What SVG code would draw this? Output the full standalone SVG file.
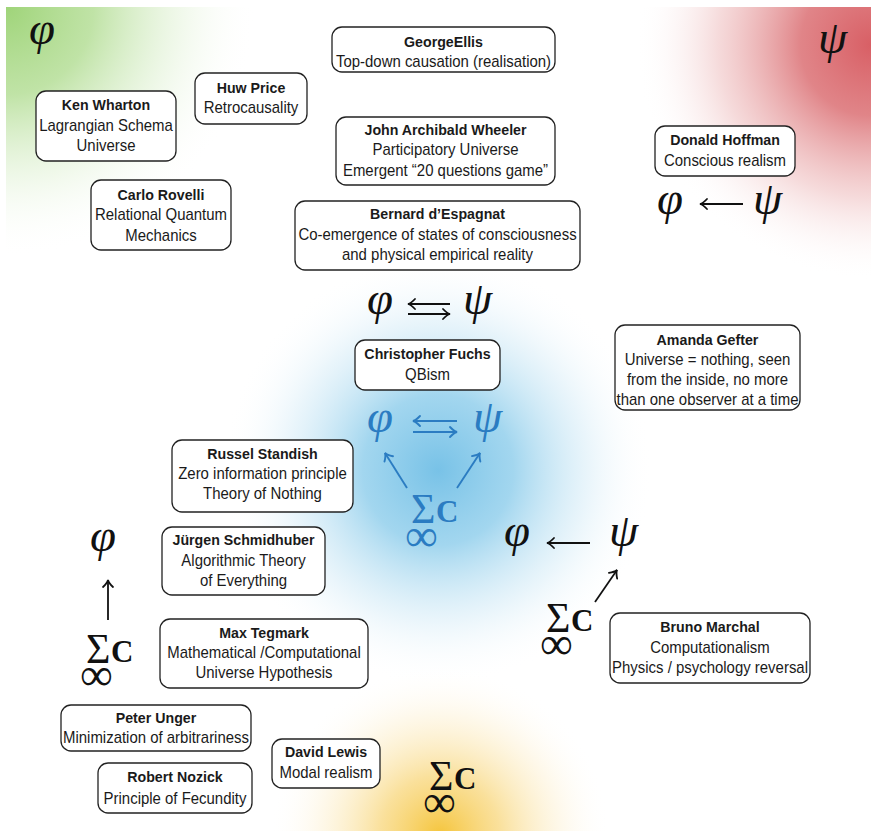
<svg xmlns="http://www.w3.org/2000/svg" width="871" height="831" viewBox="0 0 871 831">
  <defs>
    <radialGradient id="glowGreen" gradientUnits="userSpaceOnUse" cx="6" cy="7" r="250">
      <stop offset="0" stop-color="#9fd479" stop-opacity="1"/>
      <stop offset="0.35" stop-color="#b0dc90" stop-opacity="0.8"/>
      <stop offset="0.7" stop-color="#d6edc6" stop-opacity="0.35"/>
      <stop offset="1" stop-color="#ffffff" stop-opacity="0"/>
    </radialGradient>
    <radialGradient id="glowRed" gradientUnits="userSpaceOnUse" cx="871" cy="45" r="235">
      <stop offset="0" stop-color="#d85f65" stop-opacity="1"/>
      <stop offset="0.3" stop-color="#dd777b" stop-opacity="0.9"/>
      <stop offset="0.65" stop-color="#ecb5b6" stop-opacity="0.5"/>
      <stop offset="1" stop-color="#ffffff" stop-opacity="0"/>
    </radialGradient>
    <radialGradient id="glowBlue" gradientUnits="userSpaceOnUse" cx="438" cy="470" r="215">
      <stop offset="0" stop-color="#78c2e7" stop-opacity="1"/>
      <stop offset="0.35" stop-color="#92cfec" stop-opacity="0.85"/>
      <stop offset="0.7" stop-color="#cfe9f6" stop-opacity="0.45"/>
      <stop offset="1" stop-color="#ffffff" stop-opacity="0"/>
    </radialGradient>
    <radialGradient id="glowYellow" gradientUnits="userSpaceOnUse" cx="440" cy="835" r="170">
      <stop offset="0" stop-color="#f5c53c" stop-opacity="1"/>
      <stop offset="0.35" stop-color="#f8d67a" stop-opacity="0.75"/>
      <stop offset="0.7" stop-color="#fcebc0" stop-opacity="0.35"/>
      <stop offset="1" stop-color="#ffffff" stop-opacity="0"/>
    </radialGradient>
    <marker id="headK" markerUnits="userSpaceOnUse" viewBox="-10 -6 12 12" markerWidth="12" markerHeight="12" refX="0" refY="0" orient="auto" overflow="visible">
      <path d="M-7,-5 C-4,-1.8 -1.6,-0.4 0,0 C-1.6,0.4 -4,1.8 -7,5" fill="none" stroke="#111" stroke-width="1.8" stroke-linecap="round"/>
    </marker>
    <marker id="headB" markerUnits="userSpaceOnUse" viewBox="-10 -6 12 12" markerWidth="12" markerHeight="12" refX="0" refY="0" orient="auto" overflow="visible">
      <path d="M-7,-5 C-4,-1.8 -1.6,-0.4 0,0 C-1.6,0.4 -4,1.8 -7,5" fill="none" stroke="#2b7cc2" stroke-width="1.9" stroke-linecap="round"/>
    </marker>
  </defs>
  <style>
    .box { fill: #ffffff; stroke: #222222; stroke-width: 1.3; }
    .name { font-family: "Liberation Sans", Arial, sans-serif; font-weight: bold; font-size: 15.2px; fill: #1a1a1a; text-anchor: middle; }
    .desc { font-family: "Liberation Sans", Arial, sans-serif; font-size: 16px; fill: #1a1a1a; text-anchor: middle; }
    .greek { font-family: "Liberation Serif", "DejaVu Serif", serif; font-style: italic; font-size: 47px; fill: #111111; }
    .sum { font-family: "Liberation Serif", "DejaVu Serif", serif; fill: #111111; }
    .sg { font-size: 42px; }
    .cb { font-weight: bold; font-size: 31px; }
    .inf { font-size: 46px; }
    .blue .greek, .blue .sum { fill: #2b7cc2; }
    .arr { stroke: #111111; stroke-width: 1.8; fill: none; marker-end: url(#headK); }
    .arrB { stroke: #2b7cc2; stroke-width: 1.9; fill: none; marker-end: url(#headB); }
  </style>

  <!-- background glows -->
  <rect x="0" y="0" width="871" height="831" fill="#ffffff"/>
  <rect x="6" y="7" width="300" height="265" fill="url(#glowGreen)"/>
  <rect x="600" y="7" width="271" height="280" fill="url(#glowRed)"/>
  <rect x="220" y="250" width="440" height="440" fill="url(#glowBlue)"/>
  <rect x="260" y="660" width="360" height="171" fill="url(#glowYellow)"/>

  <!-- corner symbols -->
  <text class="greek" x="29" y="44">φ</text>
  <text class="greek" x="818" y="53">ψ</text>

  <!-- connectors -->
  <g id="connectors">
    <line class="arr" x1="743" y1="204" x2="700" y2="204"/>
    <line class="arr" x1="450" y1="304" x2="408" y2="304"/>
    <line class="arr" x1="408" y1="314" x2="450" y2="314"/>
    <line class="arrB" x1="457" y1="421" x2="413" y2="421"/>
    <line class="arrB" x1="413" y1="432" x2="457" y2="432"/>
    <line class="arrB" x1="407" y1="488" x2="385" y2="453"/>
    <line class="arrB" x1="457" y1="488" x2="480" y2="453"/>
    <line class="arr" x1="108" y1="620" x2="108" y2="580"/>
    <line class="arr" x1="590" y1="543" x2="547" y2="543"/>
    <line class="arr" x1="595" y1="602" x2="617" y2="570"/>
  </g>

  <!-- formula symbols -->
  <g id="hoffman-formula">
    <text class="greek" x="657" y="214">φ</text>
    <text class="greek" x="753" y="214">ψ</text>
  </g>
  <g id="top-formula">
    <text class="greek" x="367" y="314">φ</text>
    <text class="greek" x="463" y="314">ψ</text>
  </g>
  <g id="qbism-formula" class="blue">
    <text class="greek" x="367" y="432">φ</text>
    <text class="greek" x="473" y="432">ψ</text>
    <text class="sum"><tspan class="sg" x="411" y="523">Σ</tspan><tspan class="cb" x="436" y="522">C</tspan><tspan class="inf" x="405" y="551">∞</tspan></text>
  </g>
  <g id="left-formula">
    <text class="greek" x="90" y="551">φ</text>
    <text class="sum"><tspan class="sg" x="86" y="663">Σ</tspan><tspan class="cb" x="111" y="662">C</tspan><tspan class="inf" x="80" y="690">∞</tspan></text>
  </g>
  <g id="right-formula">
    <text class="greek" x="504" y="546">φ</text>
    <text class="greek" x="609" y="546">ψ</text>
    <text class="sum"><tspan class="sg" x="546" y="632">Σ</tspan><tspan class="cb" x="571" y="631">C</tspan><tspan class="inf" x="540" y="659">∞</tspan></text>
  </g>
  <g id="bottom-formula">
    <text class="sum"><tspan class="sg" x="429" y="790">Σ</tspan><tspan class="cb" x="454" y="789">C</tspan><tspan class="inf" x="423" y="817">∞</tspan></text>
  </g>

  <!-- nodes: box, then label lines in a slightly condensed text frame -->
  <g id="george-ellis">
    <rect class="box" x="332" y="27" width="223" height="45" rx="10"/>
    <g transform="translate(443.5 0) scale(0.935 1)">
      <text class="name" x="0" y="47">GeorgeEllis</text>
      <text class="desc" x="0" y="67">Top-down causation (realisation)</text>
    </g>
  </g>
  <g id="huw-price">
    <rect class="box" x="195" y="73" width="112" height="51" rx="10"/>
    <g transform="translate(251 0) scale(0.935 1)">
      <text class="name" x="0" y="93">Huw Price</text>
      <text class="desc" x="0" y="113">Retrocausality</text>
    </g>
  </g>
  <g id="ken-wharton">
    <rect class="box" x="36" y="91" width="140" height="70" rx="10"/>
    <g transform="translate(106 0) scale(0.935 1)">
      <text class="name" x="0" y="110">Ken Wharton</text>
      <text class="desc" x="0" y="131">Lagrangian Schema</text>
      <text class="desc" x="0" y="151">Universe</text>
    </g>
  </g>
  <g id="carlo-rovelli">
    <rect class="box" x="91" y="180" width="140" height="70" rx="10"/>
    <g transform="translate(161 0) scale(0.935 1)">
      <text class="name" x="0" y="200">Carlo Rovelli</text>
      <text class="desc" x="0" y="220">Relational Quantum</text>
      <text class="desc" x="0" y="241">Mechanics</text>
    </g>
  </g>
  <g id="wheeler">
    <rect class="box" x="336" y="117" width="219" height="68" rx="10"/>
    <g transform="translate(445.5 0) scale(0.935 1)">
      <text class="name" x="0" y="135">John Archibald Wheeler</text>
      <text class="desc" x="0" y="155">Participatory Universe</text>
      <text class="desc" x="0" y="176">Emergent “20 questions game”</text>
    </g>
  </g>
  <g id="espagnat">
    <rect class="box" x="295" y="201" width="285" height="69" rx="10"/>
    <g transform="translate(437.5 0) scale(0.935 1)">
      <text class="name" x="0" y="219">Bernard d’Espagnat</text>
      <text class="desc" x="0" y="240">Co-emergence of states of consciousness</text>
      <text class="desc" x="0" y="260">and physical empirical reality</text>
    </g>
  </g>
  <g id="hoffman">
    <rect class="box" x="655" y="126" width="140" height="50" rx="10"/>
    <g transform="translate(725 0) scale(0.935 1)">
      <text class="name" x="0" y="145">Donald Hoffman</text>
      <text class="desc" x="0" y="166">Conscious realism</text>
    </g>
  </g>
  <g id="fuchs">
    <rect class="box" x="355" y="340" width="145" height="50" rx="10"/>
    <g transform="translate(427.5 0) scale(0.935 1)">
      <text class="name" x="0" y="359">Christopher Fuchs</text>
      <text class="desc" x="0" y="380">QBism</text>
    </g>
  </g>
  <g id="gefter">
    <rect class="box" x="615" y="325" width="185" height="85" rx="10"/>
    <g transform="translate(707.5 0) scale(0.935 1)">
      <text class="name" x="0" y="345">Amanda Gefter</text>
      <text class="desc" x="0" y="365">Universe = nothing, seen</text>
      <text class="desc" x="0" y="385">from the inside, no more</text>
      <text class="desc" x="0" y="405">than one observer at a time</text>
    </g>
  </g>
  <g id="standish">
    <rect class="box" x="172" y="440" width="181" height="72" rx="10"/>
    <g transform="translate(262.5 0) scale(0.935 1)">
      <text class="name" x="0" y="459">Russel Standish</text>
      <text class="desc" x="0" y="479">Zero information principle</text>
      <text class="desc" x="0" y="499">Theory of Nothing</text>
    </g>
  </g>
  <g id="schmidhuber">
    <rect class="box" x="162" y="527" width="163" height="68" rx="10"/>
    <g transform="translate(243.5 0) scale(0.935 1)">
      <text class="name" x="0" y="545">Jürgen Schmidhuber</text>
      <text class="desc" x="0" y="566">Algorithmic Theory</text>
      <text class="desc" x="0" y="586">of Everything</text>
    </g>
  </g>
  <g id="tegmark">
    <rect class="box" x="160" y="619" width="208" height="69" rx="10"/>
    <g transform="translate(264 0) scale(0.935 1)">
      <text class="name" x="0" y="638">Max Tegmark</text>
      <text class="desc" x="0" y="658">Mathematical /Computational</text>
      <text class="desc" x="0" y="678">Universe Hypothesis</text>
    </g>
  </g>
  <g id="unger">
    <rect class="box" x="61" y="705" width="190" height="46" rx="10"/>
    <g transform="translate(156 0) scale(0.935 1)">
      <text class="name" x="0" y="723">Peter Unger</text>
      <text class="desc" x="0" y="743">Minimization of arbitrariness</text>
    </g>
  </g>
  <g id="nozick">
    <rect class="box" x="98" y="763" width="154" height="50" rx="10"/>
    <g transform="translate(175 0) scale(0.935 1)">
      <text class="name" x="0" y="782">Robert Nozick</text>
      <text class="desc" x="0" y="804">Principle of Fecundity</text>
    </g>
  </g>
  <g id="lewis">
    <rect class="box" x="272" y="739" width="108" height="49" rx="10"/>
    <g transform="translate(326 0) scale(0.935 1)">
      <text class="name" x="0" y="757">David Lewis</text>
      <text class="desc" x="0" y="778">Modal realism</text>
    </g>
  </g>
  <g id="marchal">
    <rect class="box" x="610" y="613" width="200" height="70" rx="10"/>
    <g transform="translate(710 0) scale(0.935 1)">
      <text class="name" x="0" y="632">Bruno Marchal</text>
      <text class="desc" x="0" y="653">Computationalism</text>
      <text class="desc" x="0" y="673">Physics / psychology reversal</text>
    </g>
  </g>
</svg>
